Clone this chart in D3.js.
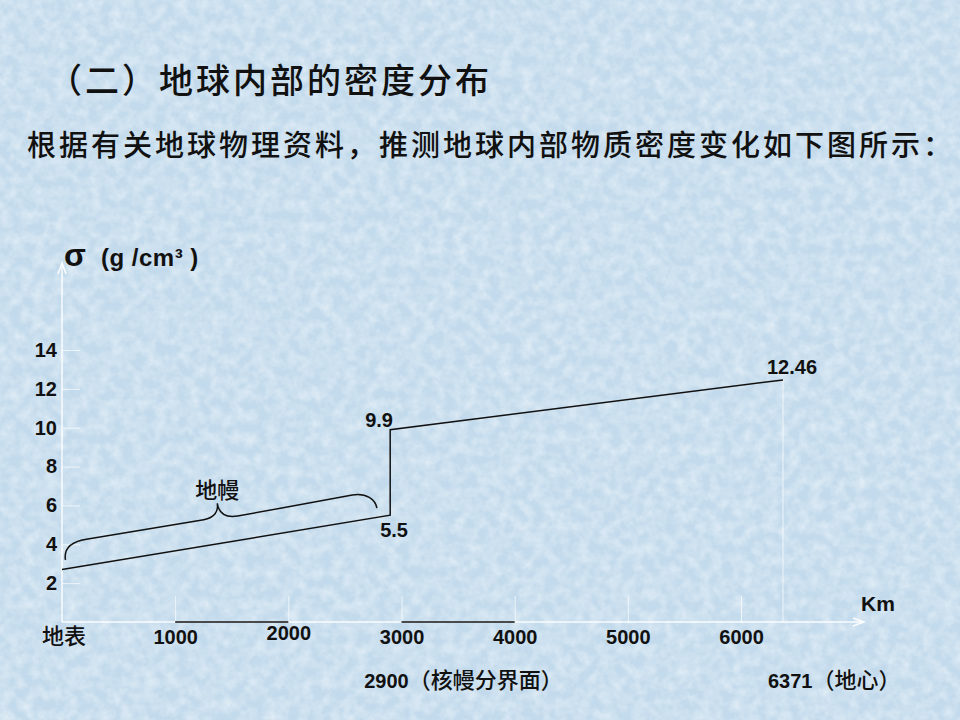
<!DOCTYPE html>
<html>
<head>
<meta charset="utf-8">
<script src="https://cdn.jsdelivr.net/npm/d3@7"></script>
<style>
  body { margin: 0; background: #c6ddee; }
  svg { display: block; }
</style>
</head>
<body>
<svg id="chart" width="960" height="720"></svg>
<script>

// density profile
var depth_km = [0, 2900, 2900, 6371];
var density = [2.7, 5.5, 9.9, 12.46];
var density_labels = ['', '5.5', '9.9', '12.46'];

// axes
var y_tick_values = [2, 4, 6, 8, 10, 12, 14];
var x_tick_values = [1000, 2000, 3000, 4000, 5000, 6000];
var dark_spans = [[1000, 2000], [3000, 4000]];

// annotations
var mantle_span = [0, 2900];
var mantle_name = '地幔';
var boundary_km = [2900, 6371];
var boundary_names = ['（核幔分界面）', '（地心）'];

var title_text = '（二）地球内部的密度分布';
var subtitle_text = '根据有关地球物理资料，推测地球内部物质密度变化如下图所示：';

// layout only
var label_offsets = [[0, 0], [-10, 22], [-25, -3], [-16, -6]];
var boundary_dx = [-26, -15];

var num_font = '"Liberation Sans", Arial, sans-serif';
var cjk_font = '"Noto Sans CJK SC", sans-serif';

var svg = d3.select('#chart');

var x_scale = d3.scaleLinear().domain([0, 6371]).range([62, 783]);
var y_scale = d3.scaleLinear().domain([0, 14]).range([622, 350]);
var axis_y = y_scale(0);
var axis_x = x_scale(0);

// paper texture
var defs = svg.append('defs');
var noise = defs.append('filter')
  .attr('id', 'paper_noise')
  .attr('x', 0).attr('y', 0).attr('width', '100%').attr('height', '100%');
noise.append('feTurbulence')
  .attr('type', 'fractalNoise')
  .attr('baseFrequency', 0.09)
  .attr('numOctaves', 3)
  .attr('seed', 7)
  .attr('result', 'noise');
noise.append('feColorMatrix')
  .attr('in', 'noise')
  .attr('type', 'matrix')
  .attr('values', '0 0 0 0 1  0 0 0 0 1  0 0 0 0 1  1.6 0 0 0 -0.5');

svg.append('rect')
  .attr('width', 960).attr('height', 720)
  .style('fill', '#c2daec');
svg.append('rect')
  .attr('width', 960).attr('height', 720)
  .attr('filter', 'url(#paper_noise)')
  .style('opacity', 0.5);

// titles
svg.append('text')
  .attr('x', 48).attr('y', 93)
  .style('font-family', cjk_font)
  .style('font-size', '34px')
  .style('font-weight', 500)
  .style('letter-spacing', '3px')
  .style('fill', '#111')
  .text(title_text);

svg.append('text')
  .attr('x', 27).attr('y', 156)
  .style('font-family', cjk_font)
  .style('font-size', '29px')
  .style('font-weight', 500)
  .style('letter-spacing', '3px')
  .style('fill', '#111')
  .text(subtitle_text);

// y axis (ticks from d3, domain drawn by hand with arrow)
var y_axis = d3.axisLeft(y_scale)
  .tickValues(y_tick_values)
  .tickSize(-18)
  .tickPadding(5);

var y_group = svg.append('g')
  .attr('transform', 'translate(' + axis_x + ',0)')
  .call(y_axis);
y_group.select('.domain').remove();
y_group.selectAll('line')
  .style('stroke', 'white')
  .style('stroke-opacity', 0.7)
  .style('stroke-width', '1px');
y_group.selectAll('text')
  .style('font-family', num_font)
  .style('font-weight', 'bold')
  .style('font-size', '20px')
  .style('fill', '#111');

// x axis
var x_axis = d3.axisBottom(x_scale)
  .tickValues(x_tick_values)
  .tickSize(-26)
  .tickPadding(8)
  .tickFormat(d3.format('d'));

var x_group = svg.append('g')
  .attr('transform', 'translate(0,' + axis_y + ')')
  .call(x_axis);
x_group.select('.domain').remove();
x_group.selectAll('line')
  .style('stroke', 'white')
  .style('stroke-opacity', 0.7)
  .style('stroke-width', '1px');
x_group.selectAll('text')
  .style('font-family', num_font)
  .style('font-weight', 'bold')
  .style('font-size', '20px')
  .style('fill', '#111');
x_group.selectAll('.tick')
  .filter(function(d) { return d === 2000; })
  .select('text')
  .attr('y', 4);

// axis lines with arrow heads
var axis_lines = svg.append('g')
  .style('stroke', 'white')
  .style('stroke-width', '1.5px')
  .style('fill', 'none')
  .style('stroke-opacity', 0.9);

axis_lines.append('line')
  .attr('x1', axis_x).attr('x2', axis_x)
  .attr('y1', axis_y).attr('y2', 264);
axis_lines.append('path')
  .attr('d', 'M' + (axis_x - 4) + ',' + 274 + 'L' + axis_x + ',' + 263 + 'L' + (axis_x + 4) + ',' + 274);

axis_lines.append('line')
  .attr('x1', axis_x).attr('x2', 864)
  .attr('y1', axis_y).attr('y2', axis_y);
axis_lines.append('path')
  .attr('d', 'M' + 853 + ',' + (axis_y - 4) + 'L' + 864 + ',' + axis_y + 'L' + 853 + ',' + (axis_y + 4));

// guide from the centre value down to the axis
svg.append('line')
  .attr('x1', x_scale(6371)).attr('x2', x_scale(6371))
  .attr('y1', y_scale(density[3])).attr('y2', axis_y)
  .style('stroke', 'white')
  .style('stroke-opacity', 0.7)
  .style('stroke-width', '1px');

// dark pieces laid over the x axis
svg.selectAll('.dark_span')
  .data(dark_spans)
  .enter()
  .append('line')
  .attr('class', 'dark_span')
  .attr('x1', function(d) { return x_scale(d[0]); })
  .attr('x2', function(d) { return x_scale(d[1]); })
  .attr('y1', axis_y).attr('y2', axis_y)
  .style('stroke', '#111')
  .style('stroke-width', '1.5px');

// axis words
svg.append('text')
  .attr('x', 861).attr('y', 611)
  .style('font-family', num_font)
  .style('font-weight', 'bold')
  .style('font-size', '21px')
  .style('fill', '#111')
  .text('Km');

svg.append('text')
  .attr('x', 42).attr('y', 644)
  .style('font-family', cjk_font)
  .style('font-size', '22px')
  .style('font-weight', 500)
  .style('fill', '#111')
  .text('地表');

var y_title = svg.append('text')
  .attr('x', 64).attr('y', 266)
  .style('font-family', num_font)
  .style('font-weight', 'bold')
  .style('fill', '#111');
y_title.append('tspan')
  .style('font-size', '32px')
  .text('σ');
y_title.append('tspan')
  .attr('x', 101)
  .style('font-size', '24px')
  .style('letter-spacing', '0.5px')
  .text('(g /cm³ )');

// boundary labels under the axis
var boundary = svg.selectAll('.boundary_label')
  .data(boundary_km)
  .enter()
  .append('text')
  .attr('class', 'boundary_label')
  .attr('x', function(d, i) { return x_scale(d) + boundary_dx[i]; })
  .attr('y', 688)
  .style('fill', '#111');
boundary.append('tspan')
  .style('font-family', num_font)
  .style('font-weight', 'bold')
  .style('font-size', '20px')
  .text(function(d) { return d; });
boundary.append('tspan')
  .style('font-family', cjk_font)
  .style('font-size', '22px')
  .style('font-weight', 500)
  .text(function(d, i) { return boundary_names[i]; });

// density line
var points = depth_km.map(function(d, i) {
  return {km: d, density: density[i], label: density_labels[i], offset: label_offsets[i]};
});

var density_line = d3.line()
  .x(function(d) { return x_scale(d.km); })
  .y(function(d) { return y_scale(d.density); });

svg.append('path')
  .datum(points)
  .attr('d', density_line)
  .style('fill', 'none')
  .style('stroke', '#111')
  .style('stroke-width', '1.5px');

svg.selectAll('.value_label')
  .data(points.filter(function(d) { return d.label !== ''; }))
  .enter()
  .append('text')
  .attr('class', 'value_label')
  .attr('x', function(d) { return x_scale(d.km) + d.offset[0]; })
  .attr('y', function(d) { return y_scale(d.density) + d.offset[1]; })
  .style('font-family', num_font)
  .style('font-weight', 'bold')
  .style('font-size', '20px')
  .style('fill', '#111')
  .text(function(d) { return d.label; });

// curly brace over the mantle part of the line
var p0 = [x_scale(mantle_span[0]), y_scale(density[0])];
var p1 = [x_scale(mantle_span[1]), y_scale(density[1])];
var dx = p1[0] - p0[0];
var dy = p1[1] - p0[1];
var len = Math.sqrt(dx * dx + dy * dy);
var ang = Math.atan2(dy, dx);

var s0 = 5, s1 = len - 12, tip = 164;
var h_end = 9, h_flat = 26, h_tip = 40;

var brace_d = 'M' + s0 + ',' + (-h_end) +
  'C' + s0 + ',' + (-h_flat + 6) + ' ' + (s0 + 8) + ',' + (-h_flat) + ' ' + (s0 + 24) + ',' + (-h_flat) +
  'L' + (tip - 16) + ',' + (-h_flat) +
  'C' + (tip - 5) + ',' + (-h_flat) + ' ' + tip + ',' + (-h_flat - 6) + ' ' + tip + ',' + (-h_tip) +
  'C' + tip + ',' + (-h_flat - 4) + ' ' + (tip + 6) + ',' + (-h_flat + 2) + ' ' + (tip + 18) + ',' + (-h_flat + 2) +
  'L' + (s1 - 22) + ',' + (-h_flat) +
  'C' + (s1 - 8) + ',' + (-h_flat) + ' ' + s1 + ',' + (-h_flat + 8) + ' ' + s1 + ',' + (-h_end);

svg.append('path')
  .attr('transform', 'translate(' + p0[0] + ',' + p0[1] + ') rotate(' + (ang * 180 / Math.PI) + ')')
  .attr('d', brace_d)
  .style('fill', 'none')
  .style('stroke', '#111')
  .style('stroke-width', '1.5px');

var tip_x = p0[0] + tip * Math.cos(ang) + h_tip * Math.sin(ang);
var tip_y = p0[1] + tip * Math.sin(ang) - h_tip * Math.cos(ang);

svg.append('text')
  .attr('x', tip_x).attr('y', tip_y - 5)
  .attr('text-anchor', 'middle')
  .style('font-family', cjk_font)
  .style('font-size', '22px')
  .style('font-weight', 500)
  .style('fill', '#111')
  .text(mantle_name);

</script>
</body>
</html>
